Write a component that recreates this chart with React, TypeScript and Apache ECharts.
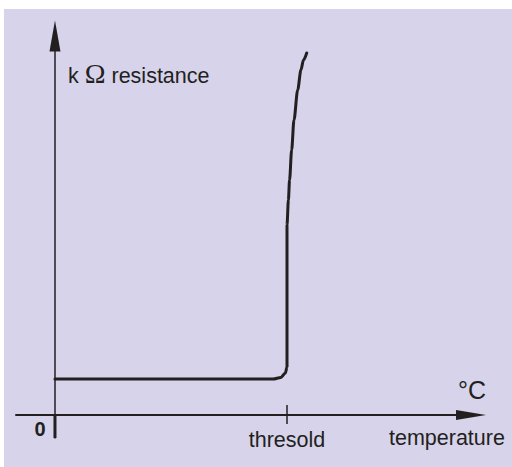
import React, { useEffect, useRef } from "react";
import * as echarts from "echarts";

// Schematic resistance vs temperature (arbitrary units: threshold = 100)
const curveX = [0, 94.0, 97.4, 99.3, 100, 100, 100.6, 101.1, 102.0, 103.0, 104.6, 106.0, 107.1, 108.5];
const curveY = [3.6, 3.6, 3.76, 4.2, 4.8, 19.0, 21.5, 23.5, 26.5, 29.5, 32.5, 34.5, 35.5, 36.2];
const thresholdValue = 100;
const tickLabels = ["thresold"];
const thresholdTickY = [-0.9, 1.0];
const yAxisStubY = [-2.3, 0];
const xMin = -16.8;
const xMax = 179.3;
const yMin = -2.3;
const yMax = 37.9;

const INK = "#231f20";
const SANS = "'Liberation Sans', Arial, Helvetica, sans-serif";

export default function App() {
  const ref = useRef<HTMLDivElement>(null);
  useEffect(() => {
    if (!ref.current) return;
    const chart = echarts.init(ref.current, undefined, { renderer: "svg" });
    const curve = curveX.map((x, i) => [x, curveY[i]]);
    chart.setOption({
      animation: false,
      grid: { left: 16, right: 41, top: 36, bottom: 29, containLabel: false, outerBoundsMode: "none" },
      xAxis: {
        type: "value",
        min: xMin,
        max: xMax,
        splitLine: { show: false },
        axisTick: { show: false },
        axisLine: {
          onZero: true,
          lineStyle: { color: INK, width: 2 },
          symbol: ["none", "triangle"],
          symbolSize: [10, 30],
        },
        axisLabel: {
          customValues: [thresholdValue],
          formatter: () => tickLabels[0],
          color: INK,
          fontSize: 21.5,
          fontFamily: SANS,
          margin: -9.5,
        },
      },
      yAxis: {
        type: "value",
        min: yMin,
        max: yMax,
        splitLine: { show: false },
        axisTick: { show: false },
        axisLabel: { show: false },
        axisLine: {
          onZero: true,
          lineStyle: { color: INK, width: 1.5 },
          symbol: ["none", "triangle"],
          symbolSize: [11, 31],
        },
      },
      series: [
        {
          type: "line",
          data: curve,
          showSymbol: false,
          smooth: 0.3,
          smoothMonotone: "x",
          lineStyle: { color: INK, width: 3, cap: "round" },
          silent: true,
          z: 5,
        },
        {
          type: "line",
          data: thresholdTickY.map((y) => [thresholdValue, y]),
          showSymbol: false,
          lineStyle: { color: INK, width: 1.5 },
          silent: true,
        },
        {
          type: "line",
          data: yAxisStubY.map((y) => [0, y]),
          showSymbol: false,
          lineStyle: { color: INK, width: 3 },
          silent: true,
        },
      ],
      graphic: [
        {
          type: "text",
          x: 68,
          y: 75,
          style: {
            text: "{a|k }{o|Ω}{a| resistance}",
            fill: INK,
            align: "left",
            verticalAlign: "middle",
            textAlign: "left",
            textVerticalAlign: "middle",
            rich: {
              a: { fontSize: 21.5, fontFamily: SANS, fill: INK, color: INK, lineHeight: 24, verticalAlign: "bottom" },
              o: { fontSize: 28, fontFamily: "'Liberation Serif', 'Times New Roman', serif", fill: INK, color: INK, lineHeight: 24, verticalAlign: "bottom" },
            },
          },
        },
        {
          type: "text",
          x: 40,
          y: 429,
          style: {
            text: "0",
            fill: INK,
            fontSize: 20,
            fontWeight: "bold",
            fontFamily: SANS,
            align: "center",
            verticalAlign: "middle",
            textAlign: "center",
            textVerticalAlign: "middle",
          },
        },
        {
          type: "text",
          x: 389,
          y: 438,
          style: {
            text: "temperature",
            fill: INK,
            fontSize: 21.5,
            fontFamily: SANS,
            align: "left",
            verticalAlign: "middle",
            textAlign: "left",
            textVerticalAlign: "middle",
          },
        },
        {
          type: "text",
          x: 486,
          y: 390,
          style: {
            text: "°C",
            fill: INK,
            fontSize: 25,
            fontFamily: SANS,
            align: "right",
            verticalAlign: "middle",
            textAlign: "right",
            textVerticalAlign: "middle",
          },
        },
      ],
    });
    return () => chart.dispose();
  }, []);

  return (
    <div style={{ position: "fixed", left: 0, top: 0, width: 512, height: 467, background: "#ffffff" }}>
      <div style={{ position: "absolute", left: 4, top: 9, right: 0, bottom: 0, background: "#d6d3ea" }} />
      <div ref={ref} style={{ position: "absolute", left: 0, top: 0, width: 512, height: 467 }} />
    </div>
  );
}
